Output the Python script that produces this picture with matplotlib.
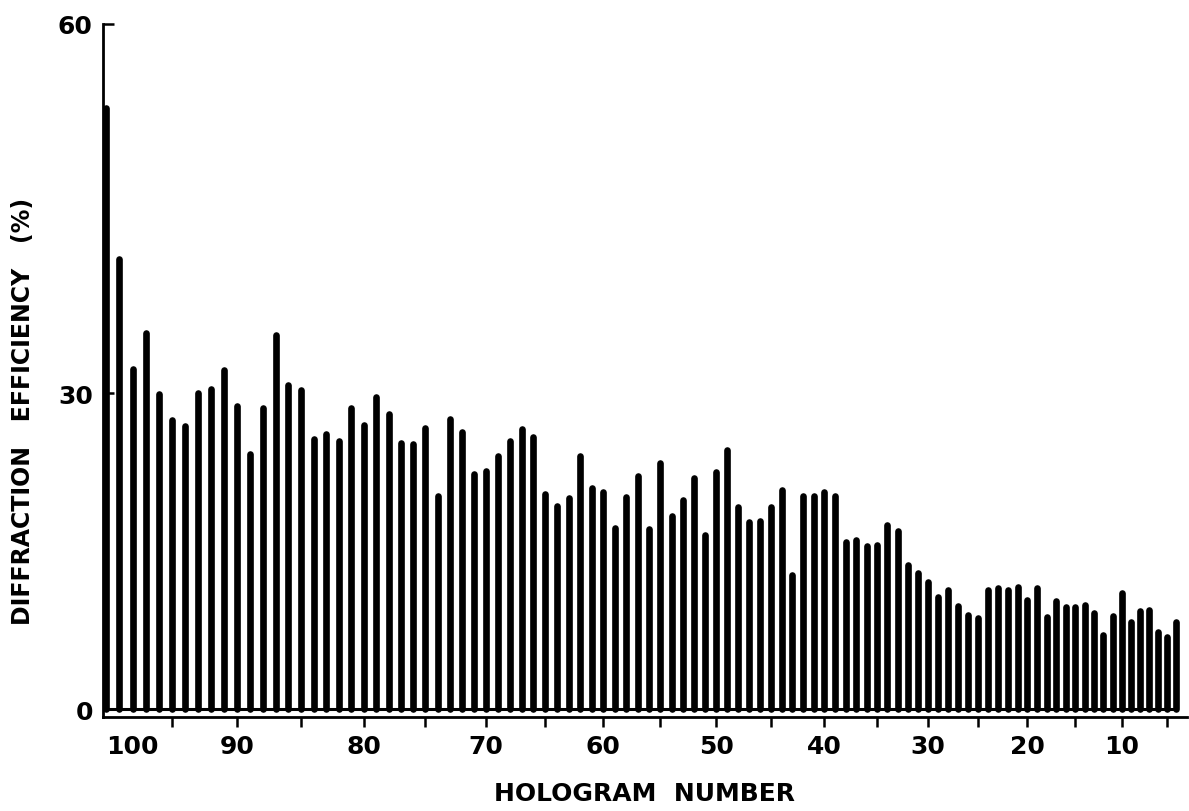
import numpy as np
import matplotlib.pyplot as plt

# hologram numbers run from 100 (left) down to 4 (right)
holograms = np.arange(100, 3, -1)

# diffraction efficiency (%), hologram 100 -> 4
efficiency = [
    53.5, 41.4, 32.1, 35.2, 29.9, 27.6, 27.1, 30.0, 30.4, 32.0,   # 100-91
    28.9, 24.6, 28.7, 35.0, 30.7, 30.3, 25.9, 26.4, 25.8, 28.7,   # 90-81
    27.2, 29.7, 28.2, 25.6, 25.5, 26.9, 20.8, 27.7, 26.6, 22.8,   # 80-71
    23.1, 24.4, 25.8, 26.8, 26.1, 21.0, 19.9, 20.6, 24.4, 21.5,   # 70-61
    21.1, 17.8, 20.7, 22.6, 17.7, 23.8, 18.9, 20.4, 22.4, 17.2,   # 60-51
    23.0, 25.0, 19.8, 18.4, 18.5, 19.8, 21.3, 13.4, 20.8, 20.8,   # 50-41
    21.1, 20.8, 16.5, 16.7, 16.1, 16.2, 18.1, 17.5, 14.3, 13.6,   # 40-31
    12.7, 11.2, 11.9, 10.4, 9.5, 9.2, 11.9, 12.1, 11.9, 12.2,     # 30-21
    11.0, 12.1, 9.3, 10.9, 10.3, 10.3, 10.5, 9.7, 7.5, 9.4,       # 20-11
    11.6, 8.8, 9.9, 10.0, 7.8, 7.3, 8.8,                          # 10-4
]

x_ticks = list(range(100, 4, -5))
x_labels = [str(t) if t % 10 == 0 else '' for t in x_ticks]
y_ticks = [0, 30, 60]

# the original figure is a photographed strip-chart, slightly warped:
# the hologram axis gets compressed to the right, the efficiency axis
# stretches toward the top. mimic that with gentle quadratic scales
KX = 0.001717
KY = 0.003051


def x_fwd(h):
    u = 100.0 - np.asarray(h, dtype=float)
    return -u + KX * u ** 2


def x_inv(g):
    g = np.asarray(g, dtype=float)
    u = (1 - np.sqrt(np.clip(1 + 4 * KX * g, 0, None))) / (2 * KX)
    return 100.0 - u


def y_fwd(v):
    v = np.asarray(v, dtype=float)
    return v + KY * v ** 2


def y_inv(w):
    w = np.asarray(w, dtype=float)
    return (-1 + np.sqrt(np.clip(1 + 4 * KY * w, 0, None))) / (2 * KY)


plt.rcParams['font.family'] = ['DejaVu Sans']
plt.rcParams['font.weight'] = 'bold'

W, H = 1189, 812
fig = plt.figure(figsize=(W / 100, H / 100), dpi=100)
ax = fig.add_axes([102.5 / W, 94 / H, 1084.5 / W, 693 / H])

ax.set_xscale('function', functions=(x_fwd, x_inv))
ax.set_yscale('function', functions=(y_fwd, y_inv))

# spikes of the recorder trace
ax.vlines(holograms, 0, efficiency, colors='black', linewidth=4.8,
          capstyle='round')
# baseline of the trace
ax.plot(holograms, np.zeros(len(holograms)), color='black', linewidth=2.2)

ax.set_xlim(100.27, 2.8)
ax.set_ylim(-0.8, 60)

for side in ['top', 'right']:
    ax.spines[side].set_visible(False)
for side in ['left', 'bottom']:
    ax.spines[side].set_linewidth(2.0)

ax.set_xticks(x_ticks)
ax.set_xticklabels(x_labels, fontsize=18, fontweight='bold')
ax.tick_params(axis='x', direction='out', length=7, width=1.8, pad=5)
ax.xaxis.get_major_ticks()[0].tick1line.set_visible(False)
ax.get_xticklabels()[0].set_horizontalalignment('left')

ax.set_yticks(y_ticks)
ax.set_yticklabels([str(t) for t in y_ticks], fontsize=18, fontweight='bold')
ax.tick_params(axis='y', direction='in', length=8, width=1.8, pad=7)

ax.set_xlabel('HOLOGRAM  NUMBER', fontsize=18, fontweight='bold', va='center')
ax.xaxis.set_label_coords(0.5, -0.11)
ax.set_ylabel('DIFFRACTION   EFFICIENCY   (%)', fontsize=17, fontweight='bold',
              va='center')
ax.yaxis.set_label_coords(-0.0733, 0.443)

fig.savefig('out.png', dpi=100, facecolor='white')
